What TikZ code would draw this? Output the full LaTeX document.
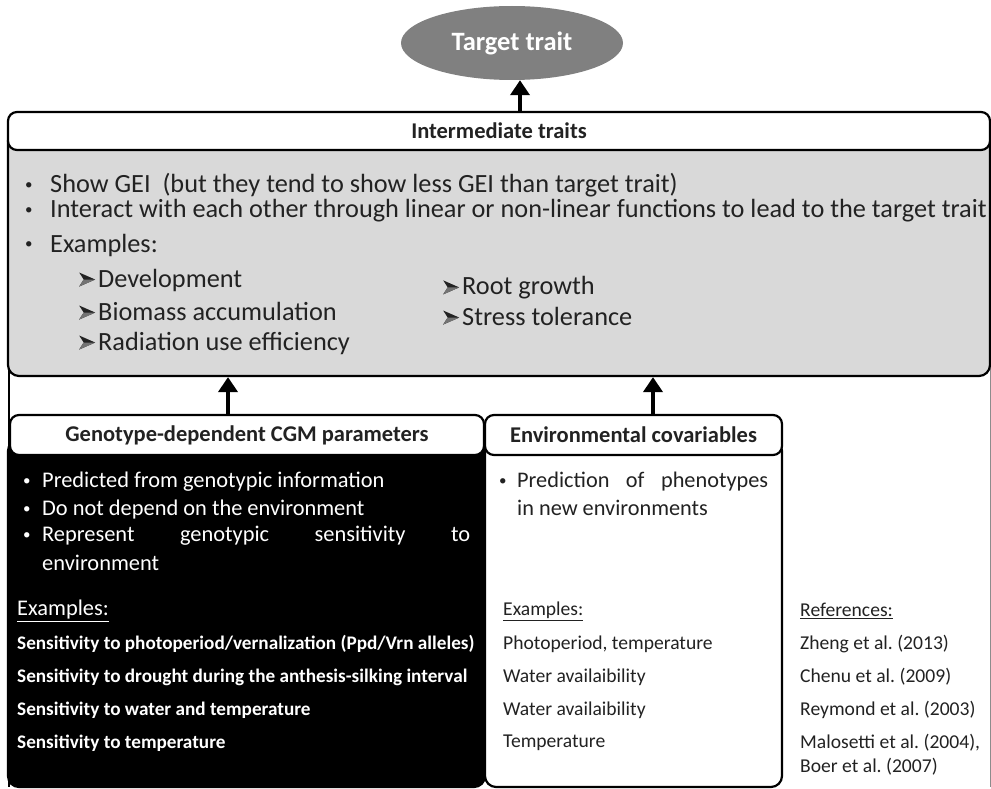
\documentclass[tikz,border=0pt]{standalone}
\usepackage{fontspec}
\setmainfont{Carlito}
\usetikzlibrary{arrows.meta,shapes.geometric}
\definecolor{boxgray}{HTML}{D9D9D9}
\definecolor{ellgray}{HTML}{808080}
\definecolor{txt}{HTML}{222222}
\newsavebox{\arwbox}
\savebox{\arwbox}{\tikz[x=1pt,y=1pt]{\fill[txt] (0,0) -- (16,7) -- (0,14) -- (4.5,7) -- cycle; \fill[black!55] (0,0) -- (16,7) -- (4.5,7) -- cycle;}}
\newcommand{\arw}{\makebox[19pt][l]{\raisebox{0.5pt}{\usebox{\arwbox}}}}
\newcommand{\bul}[1]{\makebox[#1][l]{\raisebox{0.12em}{\fontsize{15}{15}\selectfont •}}}
\frenchspacing
\begin{document}
\begin{tikzpicture}[x=1pt,y=-1pt,
  hdr/.style={draw=black, line width=2.2pt, rounded corners=9pt, fill=white, inner sep=0pt,
    font=\fontsize{22.5}{26}\selectfont\bfseries, text=txt},
  bodybox/.style={draw=black, line width=2.2pt, rounded corners=11pt, inner sep=0pt},
  bigarrow/.style={line width=4.5pt, -{Triangle[width=19pt,length=15pt]}},
  gtxt/.style={anchor=west, inner sep=0pt, text=txt, font=\fontsize{26.3}{30}\selectfont},
  wtxt/.style={anchor=west, inner sep=0pt, text=white, font=\fontsize{22.4}{26}\selectfont},
  wbold/.style={anchor=west, inner sep=0pt, text=white, font=\fontsize{19.2}{23}\selectfont\bfseries},
  etxt/.style={anchor=west, inner sep=0pt, text=txt, font=\fontsize{19.6}{23}\selectfont},
  eltxt/.style={anchor=west, inner sep=0pt, text=txt, font=\fontsize{22.3}{26}\selectfont},
]
\useasboundingbox (0,0) rectangle (991,789);

% outer frame sides
\draw[line width=2.5pt, black] (9,125) -- (9,787);
\draw[line width=0.8pt, black!45] (990,360) -- (990,787);

% target trait
\node[ellipse, fill=ellgray, minimum width=222pt, minimum height=74pt, inner sep=0pt,
  text=white, font=\fontsize{26.5}{30}\selectfont\bfseries] (target) at (512,43) {Target trait};

% intermediate traits
\node[bodybox, fill=boxgray, minimum width=982pt, minimum height=246pt] (interbody) at (499,253) {};
\node[hdr, minimum width=982pt, minimum height=38pt] (inter) at (499,131) {Intermediate traits};

\node[gtxt] (l1) at (25,185) {\bul{25pt}Show GEI\ \ (but they tend to show less GEI than target trait)};
\node[gtxt] (l2) at (25,211) {\bul{25pt}Interact with each other through linear or non-linear functions to lead to the target trait};
\node[gtxt] (l3) at (25,245) {\bul{25pt}Examples:};
\node[gtxt] (e1) at (79,280) {\arw Development};
\node[gtxt] (e2) at (79,311) {\arw Biomass accumulation};
\node[gtxt] (e3) at (79,343) {\arw Radiation use efficiency};
\node[gtxt] (e4) at (443,288) {\arw Root growth};
\node[gtxt] (e5) at (443,316) {\arw Stress tolerance};

% genotype box
\node[bodybox, fill=black, minimum width=477pt, minimum height=347pt] (genobody) at (246.5,613.5) {};
\node[hdr, minimum width=474pt, minimum height=40pt] (geno) at (247,435) {Genotype-dependent CGM parameters};

\node[wtxt] (g1) at (23,482) {\bul{19pt}Predicted from genotypic information};
\node[wtxt] (g2) at (23,510) {\bul{19pt}Do not depend on the environment};
\node[wtxt] (g3) at (23,536) {\bul{19pt}\makebox[428pt][s]{Represent\hfill genotypic\hfill sensitivity\hfill to}};
\node[wtxt] (g4) at (42,563) {environment};
\node[wtxt] (gex) at (17,611) {\underline{Examples:}};
\node[wbold] (s1) at (17,644) {Sensitivity to photoperiod/vernalization (Ppd/Vrn alleles)};
\node[wbold] (s2) at (17,677) {Sensitivity to drought during the anthesis-silking interval};
\node[wbold] (s3) at (17,710) {Sensitivity to water and temperature};
\node[wbold] (s4) at (17,743) {Sensitivity to temperature};

% environmental box
\node[bodybox, fill=white, minimum width=297pt, minimum height=347pt] (envbody) at (633.5,613.5) {};
\node[hdr, minimum width=297pt, minimum height=40pt] (env) at (633.5,435) {Environmental covariables};

\node[eltxt] (v1) at (499,482) {\bul{18pt}\makebox[251pt][s]{Prediction\hfill of\hfill phenotypes}};
\node[eltxt] (v2) at (517,508) {in new environments};
\node[etxt] (vex) at (503,611) {\underline{Examples:}};
\node[etxt] (x1) at (503,644) {Photoperiod, temperature};
\node[etxt] (x2) at (503,677) {Water availaibility};
\node[etxt] (x3) at (503,710) {Water availaibility};
\node[etxt] (x4) at (503,743) {Temperature};

% references
\node[etxt] (rex) at (800,611) {\underline{References:}};
\node[etxt] (r1) at (800,644) {Zheng et al. (2013)};
\node[etxt] (r2) at (800,677) {Chenu et al. (2009)};
\node[etxt] (r3) at (800,710) {Reymond et al. (2003)};
\node[etxt] (r4) at (800,743) {Malosetti et al. (2004),};
\node[etxt] (r5) at (800,767) {Boer et al. (2007)};

% arrows
\draw[bigarrow] (inter.north -| 520,0) -- (target.south -| 520,0);
\draw[bigarrow] (geno.north -| 228,0) -- (interbody.south -| 228,0);
\draw[bigarrow] (env.north -| 653,0) -- (interbody.south -| 653,0);
\end{tikzpicture}
\end{document}
